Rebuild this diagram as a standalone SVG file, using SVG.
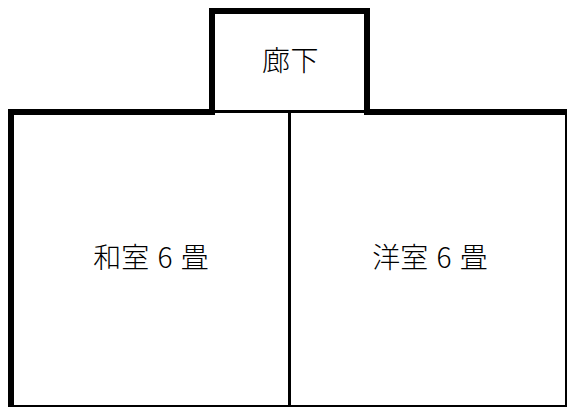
<svg xmlns="http://www.w3.org/2000/svg" width="567" height="407" viewBox="0 0 567 407">
<style>
.thick{fill:none;stroke:#000;stroke-width:6}
.thin{fill:none;stroke:#000;stroke-width:3}
.edge{fill:none;stroke:#000;stroke-width:2}
.t{font-family:"Noto Sans CJK JP","Noto Sans",sans-serif;font-size:28px;font-weight:300;text-anchor:middle;fill:#000;word-spacing:2px}
</style>
<rect width="567" height="407" fill="#fff"/>
<g id="connectors">
<path class="thin" d="M289.5 112V407M212 111.5H367"/>
<path class="edge" d="M8 406H567M566 112V407"/>
<path class="thick" d="M11 407V112H212V9M209 11H367V112H567"/>
</g>
<g id="corridor"><text class="t" x="290.500" y="71" letter-spacing="0.5">廊下</text></g>
<g id="washitsu"><text class="t" x="151" y="268">和室 6 畳</text></g>
<g id="youshitsu"><text class="t" x="430" y="268">洋室 6 畳</text></g>
</svg>
